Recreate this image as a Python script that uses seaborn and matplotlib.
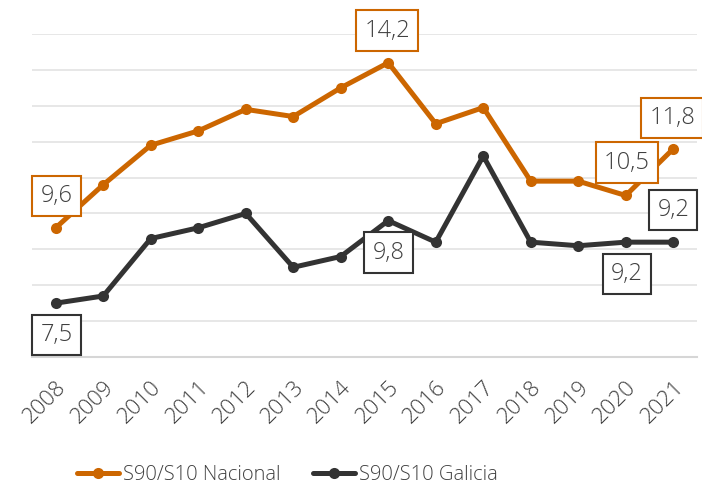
import pandas as pd
import matplotlib.pyplot as plt
import seaborn as sns

# datos
years = [2008, 2009, 2010, 2011, 2012, 2013, 2014, 2015, 2016, 2017, 2018, 2019, 2020, 2021]
nacional = [9.6, 10.8, 11.9, 12.3, 12.9, 12.7, 13.5, 14.2, 12.5, 12.95, 10.9, 10.9, 10.5, 11.8]
galicia = [7.5, 7.7, 9.3, 9.6, 10.0, 8.5, 8.8, 9.8, 9.2, 11.6, 9.2, 9.1, 9.2, 9.2]
series_names = ["S90/S10 Nacional", "S90/S10 Galicia"]
colors = ["#CC6600", "#333333"]

df = pd.DataFrame({
    "pos": list(range(len(years))) * 2,
    "value": nacional + galicia,
    "serie": [series_names[0]] * len(years) + [series_names[1]] * len(years),
})

sns.set_style("white")
plt.rcParams["font.family"] = ["Open Sans", "DejaVu Sans"]
plt.rcParams["font.weight"] = "light"
text_color = "#404040"

fig = plt.figure(figsize=(7.02, 4.86), dpi=100)
ax = fig.add_axes([32 / 702, 129 / 486, 665 / 702, 323 / 486])

sns.lineplot(data=df, x="pos", y="value", hue="serie", palette=colors,
             marker="o", markersize=8, markeredgewidth=0, linewidth=3.6,
             ax=ax, legend=True)

ax.set_xlim(-0.5, len(years) - 0.5)
ax.set_ylim(6, 15)
ax.set_yticks(range(6, 16))
ax.set_yticklabels([])
ax.tick_params(axis="y", length=0)
ax.grid(axis="y", color="#e3e3e3", linewidth=1.2)
ax.set_axisbelow(True)
for s in ["top", "right", "left"]:
    ax.spines[s].set_visible(False)
ax.spines["bottom"].set_color("#d6d6d6")
ax.spines["bottom"].set_linewidth(1.5)

ax.set_xticks(range(len(years)))
ax.set_xticklabels([str(y) for y in years], rotation=45, ha="right",
                   rotation_mode="anchor", fontsize=16, color=text_color,
                   fontweight="light")
ax.tick_params(axis="x", length=0, pad=14)
ax.set_xlabel("")
ax.set_ylabel("")

def fmt(v):
    return f"{v:.1f}".replace(".", ",")

# etiquetas: (serie, índice, dx, dy en píxeles)
labels = [
    (nacional, 0, 1, 32, colors[0]),
    (nacional, 7, -1, 32, colors[0]),
    (nacional, 12, 1, 33, colors[0]),
    (nacional, 13, -1, 31, colors[0]),
    (galicia, 0, 1, -32, colors[1]),
    (galicia, 7, 0, -32, colors[1]),
    (galicia, 12, 1, -32, colors[1]),
    (galicia, 13, 0, 32, colors[1]),
]
for vals, i, dx, dy, c in labels:
    ax.annotate(fmt(vals[i]), (i, vals[i]), xytext=(dx, dy), textcoords="offset pixels",
                ha="center", va="center", fontsize=17, color=text_color,
                fontweight="light", annotation_clip=False,
                bbox=dict(boxstyle="square,pad=0.35", fc="white", ec=c, lw=1.5))

handles, lbls = ax.get_legend_handles_labels()
ax.legend(handles, lbls, loc="center left", bbox_to_anchor=(0.04, -0.365), ncol=2,
          frameon=False, handlelength=2.1, handletextpad=0.2,
          columnspacing=1.6, labelcolor=text_color,
          prop={"weight": "light", "size": 14.5})

fig.savefig("out.png", dpi=100)
